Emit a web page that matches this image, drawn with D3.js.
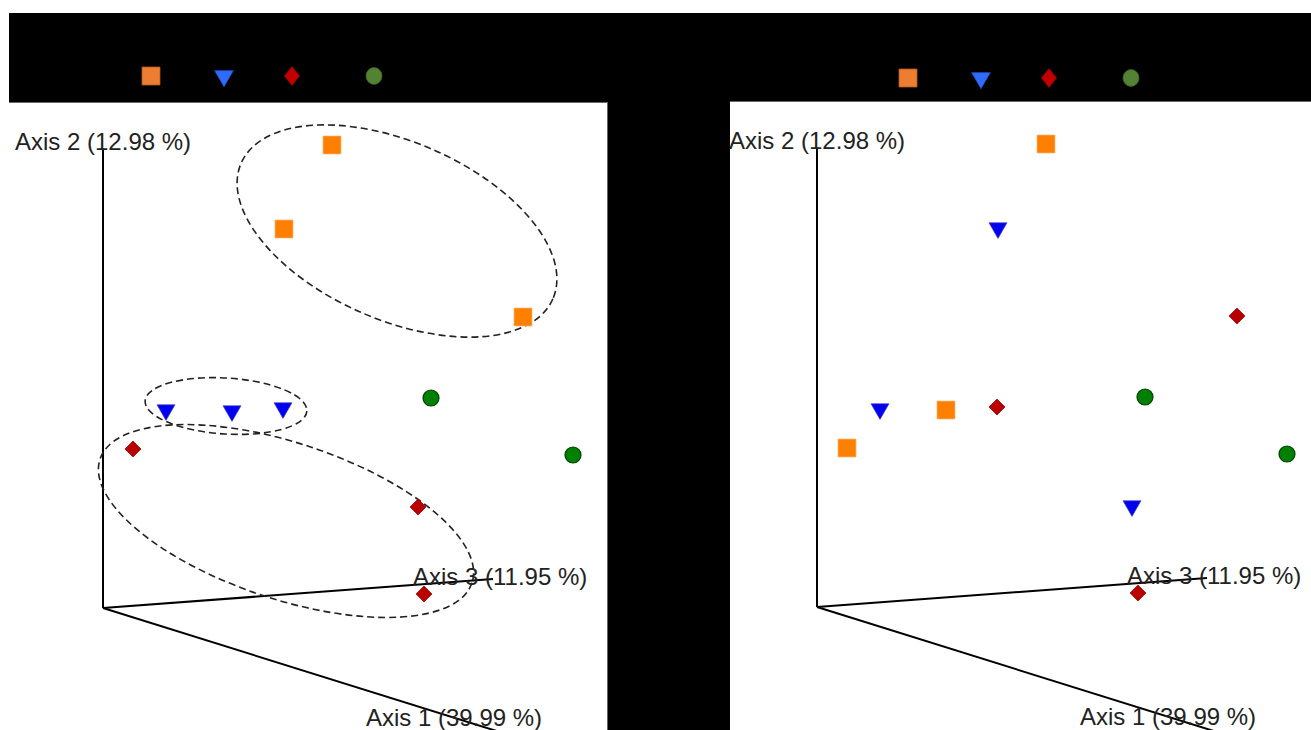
<!DOCTYPE html>
<html><head><meta charset="utf-8">
<script src="https://cdn.jsdelivr.net/npm/d3@7"></script>
<style>html,body{margin:0;padding:0;background:#fff;}svg{display:block;}</style>
</head><body>
<script>
// ---- data (projected PCoA coordinates, relative to the axes origin) ----
const pointIds = [1,2,3,4,5,6,7,8,9,10,11];
const projX = [229,181,420, 63,129,180, 30,315,321, 328,470];
const projY = [463,379,291,198,197,200,159,101, 14, 210,153];
const groupsLeft  = ["A","A","A","B","B","B","C","C","C","D","D"];
const groupsRight = ["A","B","C","B","A","C","A","B","C","D","D"];
const groupNames = ["A","B","C","D"];
const axisLabels = ["Axis 1 (39.99 %)","Axis 2 (12.98 %)","Axis 3 (11.95 %)"];
// axis end points in projected coordinates
const axisEndX = [400, 0, 390];
const axisEndY = [-125, 458, 29];
// confidence ellipses (left panel): centre, semi-axes, rotation (deg)
const ellGroup = ["A","B","C"];
const ellCx = [294,123,183];
const ellCy = [377,202,87];
const ellA = [170,81,196];
const ellB = [89,28,78];
const ellRot = [23.5,3.6,18.4];

const W=1311,H=730;
const svg=d3.select("body").append("svg").attr("width",W).attr("height",H);
svg.append("rect").attr("width",W).attr("height",H).attr("fill","#fff");
svg.append("rect").attr("x",9).attr("y",13).attr("width",W-9).attr("height",89).attr("fill","#000");
svg.append("rect").attr("x",608).attr("y",100).attr("width",122).attr("height",H-100).attr("fill","#000");

const plotCol = {A:"#FF8000",B:"#0000F0",C:"#B80000",D:"#008000"};
const plotStroke = {A:"#FFB87A",B:"#4040C0",C:"#A00000",D:"#004000"};
const legCol = {A:"#ED7D31",B:"#2F6BFF",C:"#C00000",D:"#548235"};
const legStroke = {A:"#B05A20",B:"#2050C0",C:"#900000",D:"#3E6027"};

function symbolFor(g){
  if(g==="A") return d3.symbol().type(d3.symbolSquare).size(18*18)();
  if(g==="B") return d3.symbol().type(d3.symbolTriangle).size(140)();
  if(g==="C") return d3.symbol().type(d3.symbolSquare).size(128)();
  return d3.symbol().type(d3.symbolCircle).size(Math.PI*64)();
}
function symRot(g){ return g==="B"?180:(g==="C"?45:0); }

const panels=[
  {x:9,y:102,w:599,h:628,ox:103,oy:608,groups:groupsLeft,ell:true,leg:[151,224,292,374],legY:76},
  {x:730,y:101,w:581,h:629,ox:817,oy:607,groups:groupsRight,ell:false,leg:[908,981,1049,1131],legY:78}
];

panels.forEach((p,pi)=>{
  // legend
  groupNames.forEach((g,i)=>{
    let t=`translate(${p.leg[i]},${p.legY})`;
    if(g==="B") t+=" rotate(180)";
    if(g==="C") t+=" scale(0.85,1.05) rotate(45)";
    if(g==="D") t+=" scale(1,1.05)";
    const path = g==="C"? d3.symbol().type(d3.symbolSquare).size(160)() : g==="B"? d3.symbol().type(d3.symbolTriangle).size(150)() : symbolFor(g);
    svg.append("path").attr("d",path).attr("transform",t)
      .attr("fill",legCol[g]).attr("stroke",legStroke[g]).attr("stroke-width",0.8);
  });
  const cid="clip"+pi;
  svg.append("clipPath").attr("id",cid).append("rect").attr("x",p.x).attr("y",p.y).attr("width",p.w).attr("height",p.h);
  svg.append("rect").attr("x",p.x).attr("y",p.y).attr("width",p.w).attr("height",p.h).attr("fill","#fff");
  svg.append("line").attr("x1",p.x).attr("x2",p.x+p.w).attr("y1",p.y+0.5).attr("y2",p.y+0.5)
    .attr("stroke","#666").attr("stroke-width",1);
  if(pi===0){
    svg.append("line").attr("x1",p.x+p.w-0.5).attr("x2",p.x+p.w-0.5).attr("y1",p.y).attr("y2",H)
      .attr("stroke","#666").attr("stroke-width",1);
  }
  const g=svg.append("g").attr("clip-path",`url(#${cid})`);
  const xs=d3.scaleLinear().domain([0,500]).range([p.ox,p.ox+500]);
  const ys=d3.scaleLinear().domain([0,500]).range([p.oy,p.oy-500]);
  // axes
  axisEndX.forEach((ex,i)=>{
    g.append("line").attr("x1",xs(0)).attr("y1",ys(0)).attr("x2",xs(ex)).attr("y2",ys(axisEndY[i]))
      .attr("stroke","#000").attr("stroke-width",2);
  });
  const lab=[[263,-118],[-88,458],[310,23]];
  axisLabels.forEach((t,i)=>{
    svg.append("text").attr("x",xs(lab[i][0])).attr("y",ys(lab[i][1]))
      .attr("font-family","'Liberation Sans',Arial,sans-serif").attr("font-size",24)
      .attr("fill","#222").text(t);
  });
  // ellipses
  if(p.ell){
    ellGroup.forEach((eg,i)=>{
      g.append("ellipse").attr("cx",0).attr("cy",0).attr("rx",ellA[i]).attr("ry",ellB[i])
        .attr("transform",`translate(${xs(ellCx[i])},${ys(ellCy[i])}) rotate(${ellRot[i]})`)
        .attr("fill","none").attr("stroke","#222").attr("stroke-width",1.6).attr("stroke-dasharray","7,4");
    });
  }
  // points
  pointIds.forEach((id,i)=>{
    const gr=p.groups[i];
    g.append("path").attr("d",symbolFor(gr))
      .attr("transform",`translate(${xs(projX[i])},${ys(projY[i])}) rotate(${symRot(gr)})`)
      .attr("fill",plotCol[gr]).attr("stroke",plotStroke[gr]).attr("stroke-width",gr==="D"?1.2:0.7);
  });
});
</script>
</body></html>
